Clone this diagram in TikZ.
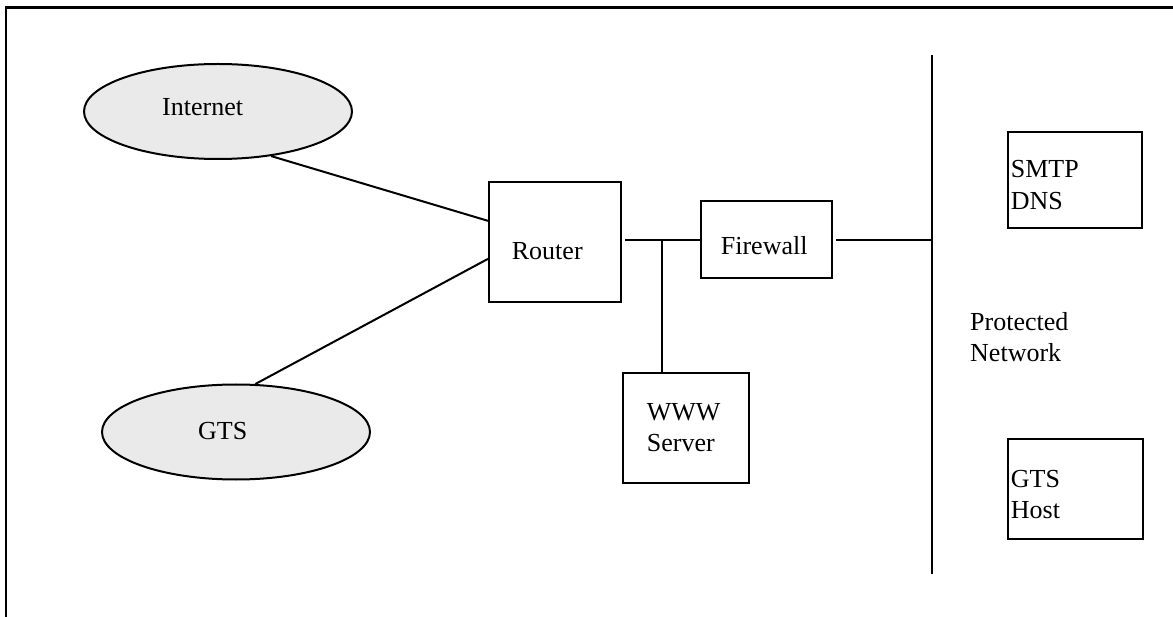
\documentclass[tikz,border=0pt]{standalone}
\usepackage{fontspec}
\setmainfont{Liberation Serif}
\usetikzlibrary{shapes.geometric,calc}

\tikzset{
  cloud/.style={ellipse, draw, line width=2pt, fill=cloudgray,
    minimum width=268pt, minimum height=95pt, inner sep=0pt},
  device/.style={rectangle, draw, line width=2pt, inner sep=0pt},
  link/.style={line width=2pt},
  frame/.style={line width=2.8pt},
  lbl/.style={inner sep=0pt, anchor=base west, align=left,
    font=\fontsize{26}{31.5}\selectfont},
}
\definecolor{cloudgray}{RGB}{234,234,234}

\begin{document}
\begin{tikzpicture}[x=1pt, y=-1pt]
  \useasboundingbox (0,0) rectangle (1173,617);

  % page frame: top and left rules only
  \coordinate (frametl) at (6,7.5);
  \coordinate (frametr) at (1173,7.5);
  \coordinate (framebl) at (6,617);
  \draw[frame] (framebl) -- (frametl) -- (frametr);

  % outside networks
  \node[cloud] (internet) at (218,111.5) {};
  \node[lbl] (internettext) at (162,116) {Internet};
  \node[cloud] (gts) at (236,432) {};
  \node[lbl] (gtstext) at (198,440) {GTS};

  % perimeter devices (multi-line labels are anchored on their last line)
  \node[device, minimum width=132pt, minimum height=119.7pt] (router) at (555,241.85) {};
  \node[lbl] (routertext) at (511.7,260) {Router};
  \node[device, minimum width=131.3pt, minimum height=77pt] (firewall) at (766.4,240) {};
  \node[lbl] (firewalltext) at (720.7,255) {Firewall};
  \node[device, minimum width=125.7pt, minimum height=109.7pt] (www) at (685.9,427.9) {};
  \node[lbl] (wwwtext) at (646.7,451.7) {WWW\\Server};

  % protected side
  \coordinate (bustop) at (932,55);
  \coordinate (busbot) at (932,574);
  \node[device, minimum width=134.3pt, minimum height=95.7pt] (smtp) at (1074.9,180) {};
  \node[lbl] (smtptext) at (1010.7,209.5) {SMTP\\DNS};
  \node[device, minimum width=134.7pt, minimum height=100pt] (gtshost) at (1075.4,489) {};
  \node[lbl] (gtshosttext) at (1010.7,518.5) {GTS\\Host};
  \node[lbl] (protected) at (970,362) {Protected\\Network};

  % links
  \draw[link] (internet.-40) -- ($(router.west)+(0,-21)$);
  \draw[link] (gts.68) -- ($(router.west)+(0,17)$);
  \draw[link] ($(firewall.west -| router.east)+(3,0)$) -- (firewall.west);
  \coordinate (tap) at (662,240);
  \draw[link] (tap) -- (tap |- www.north);
  \draw[link] ($(firewall.east)+(3,0)$) -- (firewall.east -| bustop);
  \draw[link] (bustop) -- (busbot);
  \draw[link] ($(smtp.west)+(0,10)$) -- ($(smtp.west)+(0,10)$ -| bustop);
  \draw[link] ($(gtshost.west)+(0,8)$) -- ($(gtshost.west)+(0,8)$ -| bustop);
\end{tikzpicture}
\end{document}
